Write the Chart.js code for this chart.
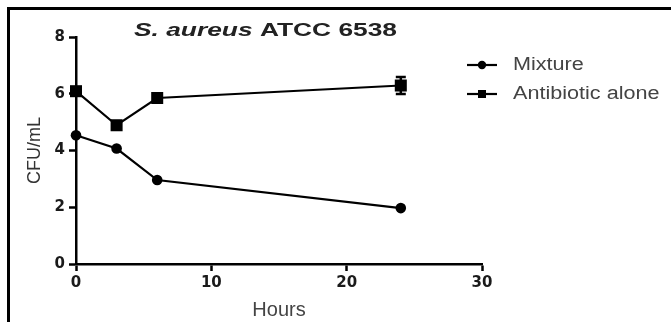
<!DOCTYPE html>
<html>
  <head>
    <meta charset="utf-8">
    <title>S. aureus ATCC 6538</title>
    <script src="https://cdn.jsdelivr.net/npm/chart.js@4.4.0/dist/chart.umd.min.js"></script>
    <style>
      html, body { margin: 0; padding: 0; background: #fff; }
      #wrap { position: relative; width: 671px; height: 322px; overflow: hidden; }
      #frame { position: absolute; left: 7px; top: 7px; width: 700px; height: 400px;
               border-top: 3px solid #000; border-left: 3px solid #000; }
      #chart { position: absolute; left: 0; top: 0; }
    </style>
  </head>
  <body>
    <div id="wrap">
      <div id="frame"></div>
      <canvas id="chart" width="671" height="322"></canvas>
    </div>

    <script type="text/javascript">
      var hours = [0, 3, 6, 24];
      var mixture = [4.54, 4.07, 2.96, 1.97];
      var antibiotic = [6.09, 4.89, 5.85, 6.29];
      var mixtureErr = [0, 0, 0, 0];
      var antibioticErr = [0, 0, 0, 0.3];
      var seriesLabels = ["Mixture", "Antibiotic alone"];
      var xTicks = [0, 10, 20, 30];
      var yTicks = [0, 2, 4, 6, 8];
      var titleItalic = "S. aureus";
      var titleRest = " ATCC 6538";
      var xTitle = "Hours";
      var yTitle = "CFU/mL";

      function points(xs, ys) {
        return xs.map(function(x, i) { return {x: x, y: ys[i]}; });
      }

      var tickFont = {family: "'DejaVu Sans', sans-serif", size: 15, weight: "bold"};

      var extras = {
        id: "extras",
        beforeDatasetsDraw: function(chart) {
          var ctx = chart.ctx, xs = chart.scales.x, ys = chart.scales.y;
          ctx.save();
          ctx.strokeStyle = "#000";
          ctx.lineWidth = 2.5;
          chart.data.datasets.forEach(function(ds) {
            ds.errors.forEach(function(e, i) {
              if (!e) return;
              var px = xs.getPixelForValue(ds.data[i].x);
              var top = ys.getPixelForValue(ds.data[i].y + e);
              var bot = ys.getPixelForValue(ds.data[i].y - e);
              ctx.beginPath();
              ctx.moveTo(px, top); ctx.lineTo(px, bot);
              ctx.moveTo(px - 5, top); ctx.lineTo(px + 5, top);
              ctx.moveTo(px - 5, bot); ctx.lineTo(px + 5, bot);
              ctx.stroke();
            });
          });
          ctx.restore();
        },
        afterDraw: function(chart) {
          var ctx = chart.ctx;
          // title, italic species name then bold strain
          ctx.save();
          ctx.fillStyle = "#222";
          ctx.textBaseline = "alphabetic";
          var f1 = "italic bold 19px 'Liberation Sans', Arial, sans-serif";
          var f2 = "bold 19px 'Liberation Sans', Arial, sans-serif";
          ctx.font = f1; var w1 = ctx.measureText(titleItalic).width;
          ctx.font = f2; var w2 = ctx.measureText(titleRest).width;
          ctx.translate(134, 36);
          ctx.scale(263 / (w1 + w2), 1);
          ctx.font = f1; ctx.fillText(titleItalic, 0, 0);
          ctx.font = f2; ctx.fillText(titleRest, w1, 0);
          ctx.restore();

          // legend at the right
          ctx.save();
          chart.data.datasets.forEach(function(ds, i) {
            var y = 65 + i * 29;
            ctx.strokeStyle = "#000";
            ctx.fillStyle = "#000";
            ctx.lineWidth = 2.2;
            ctx.beginPath();
            ctx.moveTo(467, y); ctx.lineTo(497, y);
            ctx.stroke();
            ctx.beginPath();
            if (ds.pointStyle === "rect") {
              ctx.rect(478, y - 4, 8, 8);
            } else {
              ctx.arc(482, y, 4.2, 0, Math.PI * 2);
            }
            ctx.fill();
            ctx.save();
            ctx.fillStyle = "#444";
            ctx.font = "18px 'Liberation Sans', Arial, sans-serif";
            ctx.textBaseline = "alphabetic";
            ctx.translate(513, y + 5);
            ctx.scale(1.2, 1);
            ctx.fillText(ds.label, 0, 0);
            ctx.restore();
          });
          ctx.restore();
        }
      };

      var myChart = new Chart(document.getElementById("chart"), {
        type: "line",
        data: {
          datasets: [{
            label: seriesLabels[0],
            data: points(hours, mixture),
            errors: mixtureErr,
            borderColor: "#000", backgroundColor: "#000", borderWidth: 2.2,
            pointStyle: "circle", pointRadius: 5.3, pointBorderWidth: 0,
            tension: 0, clip: false
          }, {
            label: seriesLabels[1],
            data: points(hours, antibiotic),
            errors: antibioticErr,
            borderColor: "#000", backgroundColor: "#000", borderWidth: 2.2,
            pointStyle: "rect", pointRadius: 8.5, pointBorderWidth: 0,
            tension: 0, clip: false
          }]
        },
        options: {
          responsive: false,
          animation: false,
          events: [],
          layout: {padding: {left: 0, top: 37, right: 189, bottom: 0}},
          plugins: {legend: {display: false}, title: {display: false}, tooltip: {enabled: false}},
          scales: {
            x: {
              type: "linear", min: 0, max: 30,
              afterBuildTicks: function(s) { s.ticks = xTicks.map(function(v) { return {value: v}; }); },
              afterFit: function(s) { s.height = 58; },
              grid: {drawOnChartArea: false, drawTicks: true, tickLength: 7, tickColor: "#000", tickWidth: 2.5},
              border: {display: true, color: "#000", width: 2.5},
              ticks: {color: "#1a1a1a", font: tickFont, padding: 3, maxRotation: 0},
              title: {display: true, text: xTitle, color: "#444",
                      font: {family: "'Liberation Sans', Arial, sans-serif", size: 20, lineHeight: 1.2},
                      padding: {top: 0, bottom: 0}}
            },
            y: {
              min: 0, max: 8,
              afterBuildTicks: function(s) { s.ticks = yTicks.map(function(v) { return {value: v}; }); },
              afterFit: function(s) { s.width = 76; },
              grid: {drawOnChartArea: false, drawTicks: true, tickLength: 7, tickColor: "#000", tickWidth: 2.5},
              border: {display: true, color: "#000", width: 2.5},
              ticks: {color: "#1a1a1a", font: tickFont, padding: 4},
              title: {display: true, text: yTitle, color: "#333",
                      font: {family: "'Liberation Sans', Arial, sans-serif", size: 18, lineHeight: 1.2},
                      padding: {top: 24, bottom: 0}}
            }
          }
        },
        plugins: [extras]
      });
    </script>
  </body>
</html>
